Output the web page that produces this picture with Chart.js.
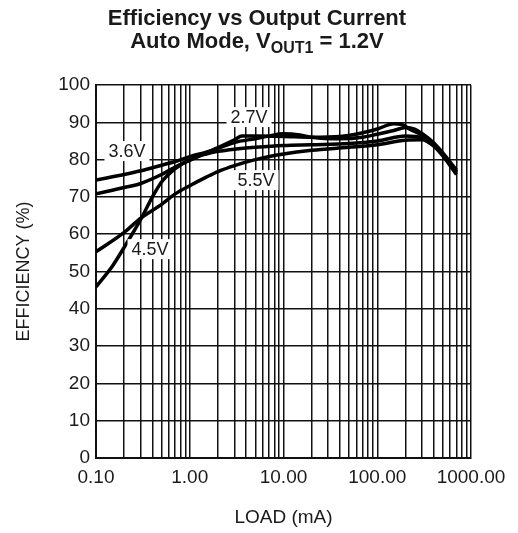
<!DOCTYPE html>
<html>
<head>
<meta charset="utf-8">
<script src="https://cdn.jsdelivr.net/npm/chart.js@4.4.0/dist/chart.umd.min.js"></script>
<style>
  html, body { margin: 0; padding: 0; background: #fff; }
  #wrap { width: 518px; height: 533px; }
</style>
</head>
<body>
<div id="wrap"><canvas id="effChart"></canvas></div>
<script>
// efficiency curves, load in mA, efficiency in %
const load27 = [0.1, 0.2, 0.3, 0.5, 0.7, 1, 1.5, 2, 3, 3.6, 5, 10, 20, 40, 70, 100, 150, 180, 220, 300, 400, 500, 700];
const eff27  = [70.8, 72.5, 73.6, 76, 78, 79.8, 81.8, 83.2, 85.3, 86.3, 86.3, 86.2, 86.0, 86.2, 87.2, 88.2, 89.6, 89.5, 88.2, 86.5, 84, 81.3, 76.8];

const load36 = [0.1, 0.2, 0.3, 0.5, 0.7, 1, 1.5, 2, 3, 5, 7, 10, 15, 20, 40, 70, 100, 150, 200, 250, 300, 400, 500, 700];
const eff36  = [74.5, 76, 77, 78.5, 79.5, 80.8, 82, 83, 84.6, 85.6, 86.3, 86.9, 86.6, 86, 85.6, 86, 86.8, 87.8, 88.6, 88.2, 87, 84.5, 81.8, 77.2];

const load45 = [0.1, 0.15, 0.2, 0.3, 0.4, 0.5, 0.7, 1, 1.5, 2, 3, 5, 10, 20, 50, 100, 200, 300, 400, 500, 700];
const eff45  = [45.9, 51.5, 56.5, 64, 70, 74, 77.6, 80, 81.5, 82.2, 82.8, 83.3, 83.8, 84, 84.3, 85, 86.3, 85.8, 84, 81.3, 76.5];

const load55 = [0.1, 0.2, 0.3, 0.5, 0.7, 1, 1.5, 2, 3, 5, 10, 20, 50, 100, 200, 300, 400, 500, 700];
const eff55  = [55.3, 60.5, 64.3, 68, 70.8, 73, 75.3, 76.8, 78.4, 80, 81.5, 82.5, 83.3, 84, 85.2, 85.3, 83.6, 81, 76];

// axis ticks
const xDecades = [0.1, 1, 10, 100, 1000];
const xTickLabels = ['0.10', '1.00', '10.00', '100.00', '1000.00'];
const yTicks = [0, 10, 20, 30, 40, 50, 60, 70, 80, 90, 100];

// curve labels, placed in data coordinates
const curveLabels = [
  { text: '3.6V', x: 0.214, y: 82.3 },
  { text: '2.7V', x: 4.29, y: 91.4 },
  { text: '5.5V', x: 5.09, y: 74.5 },
  { text: '4.5V', x: 0.377, y: 56 }
];

const FONT = '"Liberation Sans", Arial, Helvetica, sans-serif';

function toPoints(xs, ys) {
  return xs.map((x, i) => ({ x: x, y: ys[i] }));
}

function curve(label, xs, ys) {
  return {
    label: label,
    data: toPoints(xs, ys),
    borderColor: '#000',
    borderWidth: 3.5,
    pointRadius: 0,
    cubicInterpolationMode: 'monotone',
    fill: false
  };
}

// title with subscript, drawn above the plot
const titlePlugin = {
  id: 'titleLines',
  afterDraw(chart) {
    const ctx = chart.ctx;
    const cx = 257;
    ctx.save();
    ctx.fillStyle = '#1a1a1a';
    ctx.textBaseline = 'alphabetic';
    ctx.font = 'bold 22px ' + FONT;
    ctx.textAlign = 'center';
    ctx.fillText('Efficiency vs Output Current', cx, 25);

    const a = 'Auto Mode, V';
    const sub = 'OUT1';
    const b = ' = 1.2V';
    ctx.textAlign = 'left';
    const wa = ctx.measureText(a).width;
    const wb = ctx.measureText(b).width;
    ctx.font = 'bold 16px ' + FONT;
    const ws = ctx.measureText(sub).width;
    let x = cx - (wa + ws + wb) / 2;
    ctx.font = 'bold 22px ' + FONT;
    ctx.fillText(a, x, 48);
    x += wa;
    ctx.font = 'bold 16px ' + FONT;
    ctx.fillText(sub, x, 53);
    x += ws;
    ctx.font = 'bold 22px ' + FONT;
    ctx.fillText(b, x, 48);
    ctx.restore();
  }
};

// white-boxed voltage labels over the grid
const labelPlugin = {
  id: 'curveLabels',
  afterDatasetsDraw(chart) {
    const ctx = chart.ctx;
    const xs = chart.scales.x, ys = chart.scales.y;
    ctx.save();
    ctx.font = '18px ' + FONT;
    ctx.textAlign = 'center';
    ctx.textBaseline = 'middle';
    curveLabels.forEach(l => {
      const px = xs.getPixelForValue(l.x);
      const py = ys.getPixelForValue(l.y);
      const w = ctx.measureText(l.text).width;
      ctx.fillStyle = '#fff';
      ctx.fillRect(px - w / 2 - 4, py - 10, w + 8, 20);
      ctx.fillStyle = '#1a1a1a';
      ctx.fillText(l.text, px, py + 1);
    });
    ctx.restore();
  }
};

const ctx = document.getElementById('effChart').getContext('2d');
new Chart(ctx, {
  type: 'line',
  data: {
    datasets: [
      curve('2.7V', load27, eff27),
      curve('3.6V', load36, eff36),
      curve('4.5V', load45, eff45),
      curve('5.5V', load55, eff55)
    ]
  },
  options: {
    responsive: true,
    maintainAspectRatio: false,
    animation: false,
    layout: { padding: { top: 85, right: 47, left: 0, bottom: 0 } },
    plugins: {
      legend: { display: false },
      title: { display: false },
      tooltip: { enabled: false }
    },
    scales: {
      x: {
        type: 'logarithmic',
        min: xDecades[0],
        max: xDecades[xDecades.length - 1],
        afterFit(scale) { scale.height = 75; },
        afterBuildTicks(scale) {
          const ticks = [];
          for (let d = 0; d < xDecades.length - 1; d++) {
            for (let m = 1; m < 10; m++) ticks.push({ value: xDecades[d] * m });
          }
          ticks.push({ value: xDecades[xDecades.length - 1] });
          scale.ticks = ticks;
        },
        ticks: {
          autoSkip: false,
          maxRotation: 0,
          padding: 8,
          color: '#1a1a1a',
          font: { family: FONT, size: 19 },
          callback(value) {
            const i = xDecades.findIndex(d => Math.abs(d - value) < d * 1e-6);
            return i >= 0 ? xTickLabels[i] : '';
          }
        },
        grid: { color: '#111', lineWidth: 1.5, drawTicks: false },
        border: { color: '#111', width: 2 },
        title: {
          display: true,
          text: 'LOAD (mA)',
          color: '#1a1a1a',
          font: { family: FONT, size: 19 },
          padding: { top: 20 }
        }
      },
      y: {
        min: 0,
        max: 100,
        afterFit(scale) { scale.width = 96; },
        afterBuildTicks(scale) {
          scale.ticks = yTicks.map(v => ({ value: v }));
        },
        ticks: {
          padding: 6,
          color: '#1a1a1a',
          font: { family: FONT, size: 19 }
        },
        grid: { color: '#111', lineWidth: 1.5, drawTicks: false },
        border: { color: '#111', width: 2 },
        title: {
          display: true,
          text: 'EFFICIENCY (%)',
          color: '#1a1a1a',
          font: { family: FONT, size: 18 },
          padding: { top: 13 }
        }
      }
    }
  },
  plugins: [titlePlugin, labelPlugin]
});
</script>
</body>
</html>
